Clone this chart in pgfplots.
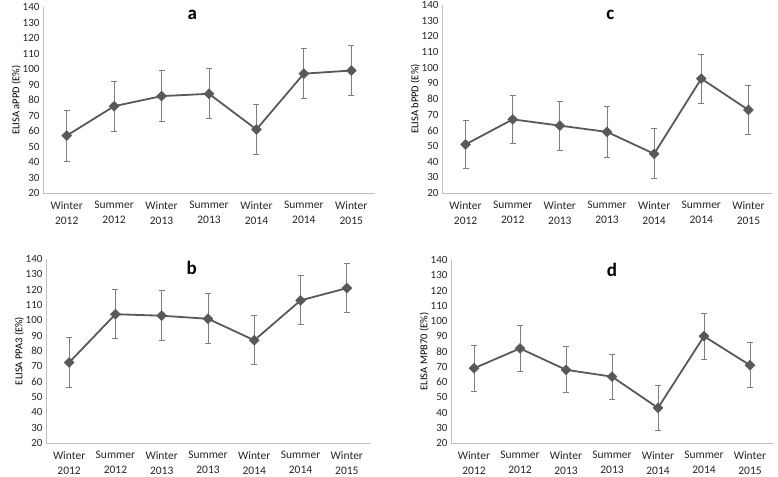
\documentclass[border=0pt]{standalone}
\usepackage{pgfplots}
\pgfplotsset{compat=1.18}
\usepackage{fontspec}
\setmainfont{Carlito}
\definecolor{linec}{HTML}{595959}
\definecolor{errc}{HTML}{7F7F7F}
\definecolor{axc}{HTML}{BFBFBF}
\pgfplotsset{
  panel/.style={
    scale only axis,
    xmin=-0.5, xmax=6.5, ymin=20, ymax=140,
    ytick={20,30,...,140},
    xtick={0,...,6},
    xticklabels={{Winter\\2012},{Summer\\2012},{Winter\\2013},{Summer\\2013},{Winter\\2014},{Summer\\2014},{Winter\\2015}},
    xticklabel style={align=center, font=\fontsize{11.5}{15}\selectfont, text=black!85, yshift=-5pt},
    yticklabel style={font=\fontsize{11}{12}\selectfont, text=black!85},
    /pgf/number format/assume math mode=true,
    axis x line*=bottom, axis y line*=left,
    axis line style={axc, line width=0.8pt, -},
    major tick length=0pt,
    ylabel style={font=\fontsize{10.5}{12}\selectfont, text=black},
    ylabel shift=-5pt,
  },
  ser/.style={
      color=linec, line width=1.8pt, mark=square*, mark size=3.5pt,
      mark options={rotate=45, fill=linec, draw=linec, line width=0.5pt},
      error bars/y dir=both, error bars/y explicit,
      error bars/error bar style={errc, line width=0.9pt},
      error bars/error mark options={rotate=90, mark size=3pt, errc, line width=0.9pt},
  },
}
\begin{document}
\begin{tikzpicture}
\useasboundingbox (0pt,0pt) rectangle (778pt,476pt);
% panel a
\begin{axis}[panel, at={(43pt,283pt)}, anchor=south west, width=332pt, height=186pt, ylabel={ELISA aPPD (E\%)}]
\addplot[ser] coordinates {(0,57) +- (0,16.5) (1,76) +- (0,16) (2,82.5) +- (0,16.5) (3,84) +- (0,16.2) (4,61) +- (0,16.2) (5,97) +- (0,16) (6,99) +- (0,16)};
\node[font=\fontsize{19}{20}\selectfont\bfseries] at (rel axis cs:0.45,0.955) {a};
\end{axis}
% panel c
\begin{axis}[panel, at={(442pt,283pt)}, anchor=south west, width=330pt, height=188pt, ylabel={ELISA bPPD (E\%)}]
\addplot[ser] coordinates {(0,51) +- (0,15.5) (1,67) +- (0,15.5) (2,63) +- (0,15.7) (3,59) +- (0,16) (4,45) +- (0,16) (5,93) +- (0,15.7) (6,73) +- (0,15.7)};
\node[font=\fontsize{19}{20}\selectfont\bfseries] at (rel axis cs:0.51,0.95) {c};
\end{axis}
% panel b
\begin{axis}[panel, at={(46pt,33pt)}, anchor=south west, width=324pt, height=184pt, ylabel={ELISA PPA3 (E\%)}]
\addplot[ser] coordinates {(0,72.5) +- (0,16.3) (1,104) +- (0,16) (2,103) +- (0,16.3) (3,101) +- (0,16.3) (4,87) +- (0,16) (5,113) +- (0,16) (6,121) +- (0,16)};
\node[font=\fontsize{19}{20}\selectfont\bfseries] at (rel axis cs:0.45,0.95) {b};
\end{axis}
% panel d
\begin{axis}[panel, at={(451pt,33pt)}, anchor=south west, width=322pt, height=183pt, ylabel={ELISA MPB70 (E\%)}]
\addplot[ser] coordinates {(0,69) +- (0,15) (1,82) +- (0,15) (2,68) +- (0,15) (3,63.5) +- (0,14.7) (4,43) +- (0,14.8) (5,90) +- (0,15) (6,71) +- (0,14.8)};
\node[font=\fontsize{19}{20}\selectfont\bfseries] at (rel axis cs:0.5,0.945) {d};
\end{axis}
\end{tikzpicture}
\end{document}
